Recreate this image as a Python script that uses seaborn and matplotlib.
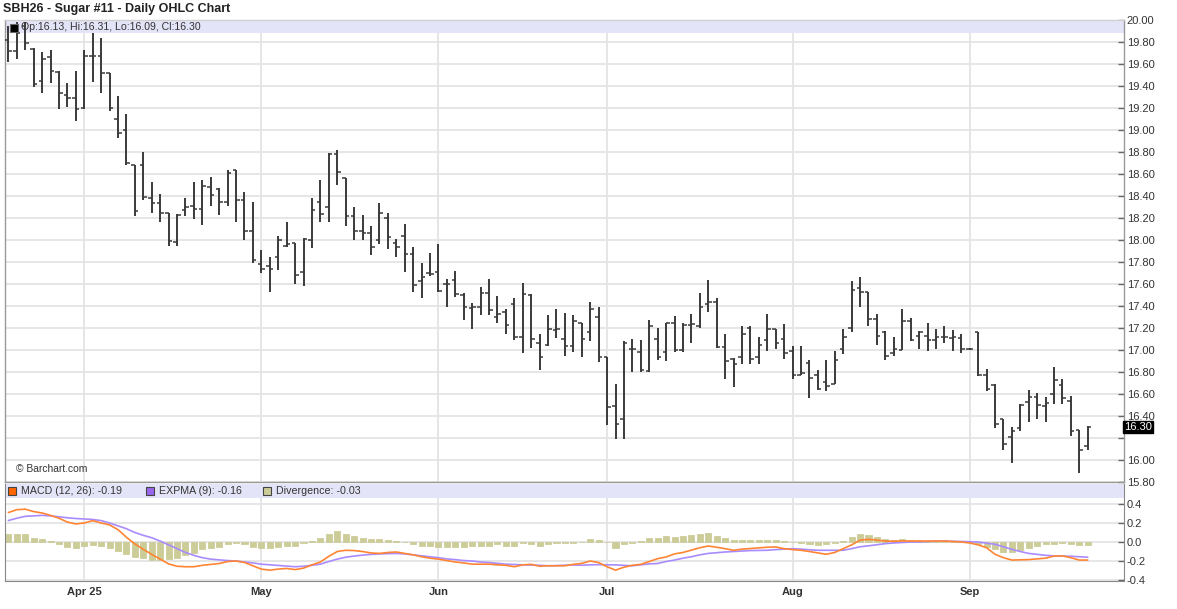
import numpy as np
import pandas as pd
import seaborn as sns
import matplotlib.pyplot as plt
from matplotlib.patches import Rectangle

# daily OHLC, SBH26, mid-March to late September (one value per trading day)
opens = [19.82, 19.72, 19.95, 19.74, 19.45, 19.66, 19.53, 19.32, 19.29, 19.20,
         19.67, 19.67, 19.52, 19.10, 19.00, 18.68, 18.68, 18.38, 18.34, 18.25,
         17.98, 18.27, 18.31, 18.28, 18.48, 18.46, 18.35, 18.64, 18.36, 18.08,
         17.78, 17.76, 17.85, 17.95, 17.97, 17.71, 18.00, 18.35, 18.30, 18.78,
         18.56, 18.22, 18.08, 18.06, 18.00, 18.20, 17.97, 18.04, 17.87, 17.63,
         17.70, 17.71, 17.60, 17.64, 17.50, 17.38, 17.39, 17.52, 17.30, 17.35,
         17.42, 17.12, 17.50, 17.06, 17.05, 17.18, 17.10, 17.04, 17.25, 17.16,
         17.30, 16.94, 16.49, 16.37, 17.01, 16.98, 16.81, 17.10, 16.98, 17.25,
         17.00, 17.23, 17.22, 17.42, 17.44, 17.03, 16.92, 16.94, 17.20, 16.94,
         17.09, 17.19, 17.10, 16.99, 16.77, 16.88, 16.77, 16.71, 16.69, 17.01,
         17.20, 17.56, 17.53, 17.28, 17.16, 16.97, 17.00, 17.26, 17.13, 17.13,
         17.09, 17.12, 17.11, 17.11, 17.01, 17.16, 16.77, 16.68, 16.37, 16.21,
         16.29, 16.53, 16.57, 16.49, 16.60, 16.68, 16.54, 16.27, 16.13]
highs = [19.95, 19.98, 19.98, 19.75, 19.71, 19.73, 19.54, 19.43, 19.54, 19.73,
         19.88, 19.84, 19.52, 19.31, 19.15, 18.68, 18.80, 18.53, 18.42, 18.25,
         18.24, 18.38, 18.53, 18.55, 18.57, 18.47, 18.64, 18.64, 18.44, 18.35,
         17.91, 17.85, 18.04, 18.16, 17.97, 18.02, 18.38, 18.55, 18.79, 18.82,
         18.56, 18.30, 18.23, 18.13, 18.34, 18.25, 18.01, 18.15, 17.94, 17.79,
         17.88, 17.96, 17.65, 17.72, 17.52, 17.43, 17.57, 17.65, 17.49, 17.37,
         17.47, 17.61, 17.51, 17.15, 17.32, 17.37, 17.34, 17.32, 17.25, 17.44,
         17.39, 16.94, 16.69, 17.08, 17.10, 17.09, 17.27, 17.20, 17.25, 17.31,
         17.25, 17.33, 17.52, 17.64, 17.47, 17.15, 16.93, 17.22, 17.22, 17.12,
         17.33, 17.19, 17.24, 17.04, 17.04, 16.91, 16.82, 16.91, 16.99, 17.19,
         17.63, 17.66, 17.53, 17.33, 17.17, 17.12, 17.37, 17.29, 17.17, 17.25,
         17.19, 17.22, 17.18, 17.15, 17.02, 17.16, 16.83, 16.69, 16.37, 16.30,
         16.51, 16.64, 16.61, 16.57, 16.85, 16.74, 16.58, 16.27, 16.31]
lows = [19.62, 19.65, 19.73, 19.39, 19.34, 19.43, 19.19, 19.21, 19.08, 19.19,
        19.44, 19.34, 19.17, 18.93, 18.68, 18.22, 18.36, 18.25, 18.16, 17.95,
        17.95, 18.22, 18.19, 18.14, 18.31, 18.23, 18.31, 18.16, 18.00, 17.79,
        17.70, 17.53, 17.73, 17.94, 17.60, 17.58, 17.93, 18.16, 18.16, 18.50,
        18.13, 18.00, 18.00, 17.86, 17.96, 17.92, 17.85, 17.71, 17.53, 17.47,
        17.67, 17.53, 17.39, 17.48, 17.27, 17.19, 17.32, 17.32, 17.25, 17.15,
        17.09, 16.97, 17.02, 16.82, 17.04, 17.11, 16.95, 16.98, 16.94, 17.08,
        16.89, 16.32, 16.19, 16.19, 16.80, 16.80, 16.80, 16.91, 16.90, 16.98,
        16.98, 17.06, 17.20, 17.35, 17.02, 16.74, 16.66, 16.87, 16.87, 16.87,
        16.99, 17.01, 16.92, 16.74, 16.77, 16.56, 16.64, 16.63, 16.69, 16.96,
        17.16, 17.39, 17.22, 17.05, 16.91, 16.95, 17.00, 17.08, 17.01, 16.99,
        17.01, 17.06, 16.99, 16.97, 17.00, 16.76, 16.63, 16.29, 16.09, 15.97,
        16.26, 16.35, 16.37, 16.35, 16.51, 16.51, 16.22, 15.88, 16.09]
closes = [19.72, 19.88, 19.79, 19.42, 19.65, 19.54, 19.34, 19.29, 19.19, 19.67,
          19.67, 19.52, 19.20, 18.97, 18.70, 18.26, 18.39, 18.34, 18.25, 17.99,
          18.23, 18.30, 18.28, 18.49, 18.41, 18.35, 18.61, 18.36, 18.08, 17.82,
          17.74, 17.74, 18.00, 17.96, 17.68, 18.01, 18.27, 18.24, 18.78, 18.62,
          18.22, 18.08, 18.06, 17.94, 18.25, 18.03, 17.94, 17.87, 17.59, 17.66,
          17.69, 17.54, 17.60, 17.51, 17.39, 17.39, 17.52, 17.36, 17.33, 17.23,
          17.12, 17.51, 17.10, 16.94, 17.19, 17.19, 17.04, 17.26, 17.10, 17.37,
          16.94, 16.48, 16.33, 17.06, 17.01, 16.82, 17.22, 16.94, 17.25, 17.00,
          17.23, 17.24, 17.39, 17.44, 17.03, 16.90, 16.87, 17.15, 16.92, 17.05,
          17.19, 17.06, 16.97, 16.77, 16.79, 16.75, 16.65, 16.67, 16.91, 17.12,
          17.55, 17.53, 17.28, 17.13, 16.95, 17.01, 17.26, 17.09, 17.16, 17.09,
          17.12, 17.12, 17.12, 17.01, 17.01, 16.77, 16.65, 16.33, 16.15, 16.26,
          16.50, 16.57, 16.50, 16.52, 16.73, 16.56, 16.26, 16.09, 16.30]

# MACD panel
macd = [0.31, 0.34, 0.345, 0.32, 0.305, 0.28, 0.25, 0.21, 0.19, 0.20,
        0.225, 0.20, 0.18, 0.13, 0.05, -0.02, -0.077, -0.13, -0.18, -0.23,
        -0.255, -0.26, -0.26, -0.245, -0.235, -0.226, -0.205, -0.20, -0.215, -0.25,
        -0.285, -0.296, -0.285, -0.278, -0.29, -0.275, -0.24, -0.21, -0.15, -0.10,
        -0.087, -0.09, -0.10, -0.115, -0.12, -0.11, -0.105, -0.12, -0.135, -0.155,
        -0.17, -0.18, -0.195, -0.21, -0.22, -0.233, -0.233, -0.233, -0.24, -0.245,
        -0.26, -0.24, -0.235, -0.255, -0.25, -0.25, -0.25, -0.235, -0.225, -0.20,
        -0.216, -0.26, -0.296, -0.265, -0.245, -0.235, -0.205, -0.175, -0.157, -0.125,
        -0.11, -0.085, -0.06, -0.042, -0.055, -0.07, -0.087, -0.075, -0.068, -0.06,
        -0.055, -0.052, -0.07, -0.08, -0.087, -0.10, -0.115, -0.129, -0.11, -0.07,
        -0.03, 0.02, 0.028, 0.02, 0.01, 0.008, 0.012, 0.01, 0.01, 0.01,
        0.01, 0.01, 0.005, 0.0, -0.01, -0.03, -0.06, -0.129, -0.165, -0.19,
        -0.188, -0.185, -0.178, -0.17, -0.148, -0.146, -0.165, -0.19, -0.19]
expma = [0.226, 0.25, 0.27, 0.275, 0.28, 0.275, 0.265, 0.255, 0.247, 0.242,
         0.237, 0.225, 0.20, 0.17, 0.14, 0.10, 0.07, 0.045, 0.01, -0.03,
         -0.07, -0.11, -0.14, -0.165, -0.18, -0.188, -0.195, -0.20, -0.21, -0.22,
         -0.233, -0.24, -0.248, -0.255, -0.26, -0.255, -0.245, -0.233, -0.205, -0.18,
         -0.16, -0.148, -0.138, -0.13, -0.125, -0.122, -0.12, -0.125, -0.135, -0.145,
         -0.155, -0.165, -0.178, -0.185, -0.195, -0.20, -0.21, -0.216, -0.225, -0.233,
         -0.237, -0.24, -0.242, -0.245, -0.25, -0.248, -0.244, -0.242, -0.244, -0.24,
         -0.238, -0.24, -0.24, -0.245, -0.25, -0.24, -0.23, -0.226, -0.205, -0.19,
         -0.17, -0.155, -0.135, -0.12, -0.112, -0.105, -0.10, -0.095, -0.09, -0.088,
         -0.087, -0.08, -0.075, -0.07, -0.075, -0.082, -0.087, -0.087, -0.087, -0.087,
         -0.07, -0.05, -0.04, -0.028, -0.017, -0.01, -0.005, 0.0, 0.0, 0.005,
         0.008, 0.01, 0.008, 0.005, 0.003, 0.0, -0.012, -0.024, -0.05, -0.077,
         -0.10, -0.12, -0.13, -0.14, -0.146, -0.148, -0.15, -0.155, -0.16]
divergence = [0.087, 0.087, 0.08, 0.045, 0.03, 0.01, -0.024, -0.049, -0.066, -0.042,
              -0.031, -0.042, -0.06, -0.094, -0.129, -0.157, -0.17, -0.188, -0.188, -0.18,
              -0.164, -0.14, -0.118, -0.077, -0.06, -0.049, -0.017, -0.01, -0.024, -0.049,
              -0.06, -0.066, -0.049, -0.042, -0.042, -0.01, 0.01, 0.045, 0.087, 0.115,
              0.087, 0.063, 0.045, 0.028, 0.028, 0.017, 0.01, 0.0, -0.024, -0.042,
              -0.042, -0.049, -0.049, -0.049, -0.049, -0.042, -0.042, -0.042, -0.024, -0.042,
              -0.042, -0.007, -0.017, -0.042, -0.017, -0.007, -0.007, -0.007, 0.0, 0.028,
              0.017, 0.0, -0.06, -0.024, -0.007, 0.01, 0.038, 0.045, 0.063, 0.052,
              0.066, 0.073, 0.08, 0.09, 0.063, 0.038, 0.024, 0.02, 0.017, 0.017,
              0.02, 0.02, 0.01, 0.0, -0.01, -0.024, -0.031, -0.024, -0.007, 0.01,
              0.052, 0.08, 0.07, 0.056, 0.028, 0.017, 0.028, 0.017, 0.017, 0.01,
              0.01, 0.01, 0.01, 0.007, 0.0, -0.024, -0.052, -0.077, -0.1, -0.1,
              -0.087, -0.06, -0.042, -0.024, -0.017, -0.007, -0.024, -0.031, -0.031]

month_labels = ["Apr 25", "May", "Jun", "Jul", "Aug", "Sep"]
month_starts = [9, 30, 51, 71, 93, 114]
price_ticks = [15.8, 16.0, 16.2, 16.4, 16.6, 16.8, 17.0, 17.2, 17.4, 17.6, 17.8,
               18.0, 18.2, 18.4, 18.6, 18.8, 19.0, 19.2, 19.4, 19.6, 19.8, 20.0]
macd_ticks = [-0.4, -0.2, 0.0, 0.2, 0.4]

sns.set_style("white")
plt.rcParams['font.family'] = ['Liberation Sans', 'DejaVu Sans']

df = pd.DataFrame({"i": np.arange(len(closes)), "open": opens, "high": highs,
                   "low": lows, "close": closes, "macd": macd, "expma": expma,
                   "div": divergence})

W, H = 1177, 609
fig = plt.figure(figsize=(W / 100, H / 100), dpi=100)
ax = fig.add_axes([5 / W, 1 - 482 / H, 1119 / W, 462 / H])
ax2 = fig.add_axes([5 / W, 1 - 581 / H, 1119 / W, 97 / H])

xlim = (-0.4, 132.3)
grid_c = "#e4e4e4"
txt_c = "#333333"

# ---- price panel
ax.set_xlim(*xlim)
ax.set_ylim(15.8, 20.0)
for t in price_ticks:
    ax.axhline(t, color=grid_c, lw=1.3, zorder=0)
for m in month_starts:
    ax.axvline(m, color=grid_c, lw=1.3, zorder=0)
ax.add_patch(Rectangle((0, 1 - 13 / 462), 1, 13 / 462, transform=ax.transAxes,
                       facecolor="#e4e4f8", edgecolor="none", zorder=1))

bar_c = "#3a3a3a"
ax.vlines(df["i"], df["low"], df["high"], color=bar_c, lw=1.4, zorder=3)
ax.hlines(df["open"], df["i"] - 0.42, df["i"], color=bar_c, lw=1.1, zorder=3)
ax.hlines(df["close"], df["i"], df["i"] + 0.42, color=bar_c, lw=1.1, zorder=3)

# the 16.20 label sits under the last-price tag, so it is left blank
ax.yaxis.tick_right()
ax.set_yticks(price_ticks)
ax.set_yticklabels(["" if abs(t - 16.2) < 1e-6 else f"{t:.2f}" for t in price_ticks])
ax.tick_params(axis="y", direction="in", length=4, width=1, colors="#666666",
               labelcolor=txt_c, labelsize=8, pad=2)
ax.set_xticks([])
for s in ["left", "bottom", "right", "top"]:
    ax.spines[s].set_color("#999999")
    ax.spines[s].set_linewidth(1)
ax.spines["top"].set_color("#d0d0d0")

# header line inside the price panel
ax.add_patch(Rectangle((4.5 / 1119, 1 - 11.5 / 462), 8 / 1119, 8 / 462,
                       transform=ax.transAxes, facecolor="black", edgecolor="#666666",
                       lw=0.8, zorder=4))
ax.text(16 / 1119, 1 - 7 / 462, "Op:16.13, Hi:16.31, Lo:16.09, Cl:16.30",
        transform=ax.transAxes, fontsize=7.6, color=txt_c, va="center", ha="left", zorder=4)
ax.text(11 / 1119, 13 / 462, "\u00a9 Barchart.com", transform=ax.transAxes,
        fontsize=7.4, color=txt_c, va="center", ha="left")

# last price tag
ax.text(1.0, closes[-1], f"{closes[-1]:.2f}", transform=ax.get_yaxis_transform(),
        fontsize=8, color="white", va="center", ha="left",
        bbox=dict(boxstyle="square,pad=0.12", facecolor="black", edgecolor="black"),
        zorder=6, clip_on=False)

# ---- MACD panel
ax2.set_xlim(*xlim)
ax2.set_ylim(-0.41, 0.61)
for t in macd_ticks:
    ax2.axhline(t, color=grid_c, lw=1.3, zorder=0)
for m in month_starts:
    ax2.axvline(m, color=grid_c, lw=1.3, zorder=0)
ax2.add_patch(Rectangle((0, 1 - 14 / 97), 1, 14 / 97, transform=ax2.transAxes,
                        facecolor="#e4e4f8", edgecolor="none", zorder=1))

ax2.bar(df["i"], df["div"], width=0.72, color="#cccc99", edgecolor="#cccc99",
        lw=0.6, zorder=2)
sns.lineplot(data=df, x="i", y="expma", ax=ax2, color="#a98bff", lw=1.2, zorder=3)
sns.lineplot(data=df, x="i", y="macd", ax=ax2, color="#ff8533", lw=1.2, zorder=4)

ax2.yaxis.tick_right()
ax2.set_yticks(macd_ticks)
ax2.set_yticklabels([f"{t:.1f}" for t in macd_ticks])
ax2.tick_params(axis="y", direction="in", length=4, width=1, colors="#666666",
                labelcolor=txt_c, labelsize=8, pad=2)
ax2.set_xticks(month_starts)
ax2.set_xticklabels(month_labels, fontweight="bold")
ax2.tick_params(axis="x", length=0, labelsize=8, labelcolor=txt_c, pad=4)
ax2.set_xlabel("")
ax2.set_ylabel("")
for s in ["left", "bottom", "right"]:
    ax2.spines[s].set_color("#888888")
ax2.spines["top"].set_visible(False)

legend_items = [("#ff6600", "MACD (12, 26): -0.19", 3),
                ("#9966ee", "EXPMA (9): -0.16", 141),
                ("#cccc99", "Divergence: -0.03", 258)]
for col, label, px in legend_items:
    ax2.add_patch(Rectangle((px / 1119, 1 - 11 / 97), 8 / 1119, 8 / 97,
                            transform=ax2.transAxes, facecolor=col, edgecolor="#444444",
                            lw=0.8, zorder=5))
    ax2.text((px + 13) / 1119, 1 - 7 / 97, label, transform=ax2.transAxes,
             fontsize=7.7, color=txt_c, va="center", ha="left", zorder=5)

fig.text(3 / W, 1 - 9 / H, "SBH26 - Sugar #11 - Daily OHLC Chart", fontsize=9,
         fontweight="bold", color="#222222", va="center", ha="left")

fig.savefig("out.png", dpi=100)
